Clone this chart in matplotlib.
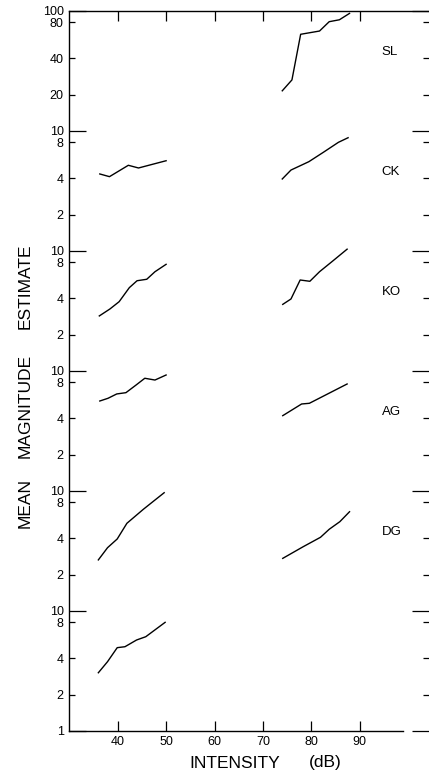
import numpy as np
import matplotlib
matplotlib.use('Agg')
from matplotlib import pyplot as plt
from matplotlib.ticker import FixedLocator, FixedFormatter, NullFormatter

plt.rcParams['font.family'] = ['Liberation Sans', 'DejaVu Sans']

# Subjects, each drawn one decade lower than the one above (SL and CK share a decade)
subjects = ['SL', 'CK', 'KO', 'AG', 'DG']
decade_shift = [4, 4, 3, 2, 1]

# Low intensity part (dB, magnitude estimate in subject units)
left_db = [
    [36.3, 38.3, 42.2, 44.3, 50.0],
    [36.2, 38.4, 40.3, 42.4, 44.0, 46.0, 47.7, 50.0],
    [36.3, 38.0, 39.8, 41.7, 43.8, 45.6, 47.7, 50.0],
    [36.0, 37.9, 39.9, 41.9, 45.3, 47.0, 49.6],
    [36.0, 37.9, 39.9, 41.5, 43.9, 45.8, 49.8],
]
left_est = [
    [4.36, 4.14, 5.15, 4.89, 5.62],
    [0.286, 0.327, 0.376, 0.492, 0.562, 0.578, 0.668, 0.77],
    [0.559, 0.589, 0.640, 0.656, 0.760, 0.865, 0.836, 0.921],
    [0.265, 0.335, 0.396, 0.535, 0.70, 0.794, 0.962],
    [0.304, 0.376, 0.492, 0.501, 0.570, 0.607, 0.80],
]

# High intensity part
right_db = [
    [74.0, 76.0, 77.8, 81.7, 83.7, 85.8, 87.9],
    [74.0, 75.8, 79.5, 82.5, 85.6, 87.6],
    [74.1, 75.8, 77.7, 79.7, 81.7, 84.5, 87.4],
    [74.1, 78.0, 79.6, 87.4],
    [74.1, 78.3, 81.9, 83.7, 85.9, 87.9],
]
right_est = [
    [21.5, 26.5, 63.6, 67.7, 81.0, 84.0, 95.0],
    [3.96, 4.70, 5.52, 6.61, 8.0, 8.74],
    [3.57, 3.96, 5.70, 5.56, 6.68, 8.25, 10.3],
    [4.22, 5.28, 5.35, 7.75],
    [2.73, 3.41, 4.09, 4.77, 5.52, 6.68],
]

# where the subject name sits (subject units)
name_est = [45, 4.5, 4.5, 4.5, 4.5]

x_ticks = [40, 50, 60, 70, 80, 90]

# y ticks on the stacked log scale
major_y = [1, 1e1, 1e2, 1e3, 1e4, 1e5, 1e6]
major_lbl = ['1', '10', '10', '10', '10', '10', '100']
minor_y = []
minor_lbl = []
for k in range(6):
    for m in [2, 4, 8]:
        minor_y.append(m * 10 ** k)
        minor_lbl.append(str(m * 10) if k == 5 else str(m))

fig = plt.figure(figsize=(4.29, 7.74), dpi=100)
ax = fig.add_axes([69.3 / 429, 43.3 / 774, (429 - 69.3) / 429, 720 / 774])

for i, s in enumerate(subjects):
    f = 10 ** decade_shift[i]
    ax.plot(left_db[i], np.array(left_est[i]) * f, color='black', lw=1.0)
    ax.plot(right_db[i], np.array(right_est[i]) * f, color='black', lw=1.0)
    ax.text(94.5, name_est[i] * f, s, fontsize=9.5, ha='left', va='center')

ax.set_yscale('log')
ax.set_ylim(1, 1e6)
ax.set_xlim(30, 30 + (429 - 69.3) / 4.84)

ax.xaxis.set_major_locator(FixedLocator(x_ticks))
ax.set_xticklabels([str(t) for t in x_ticks])
ax.yaxis.set_major_locator(FixedLocator(major_y))
ax.yaxis.set_major_formatter(FixedFormatter(major_lbl))
ax.yaxis.set_minor_locator(FixedLocator(minor_y))
ax.yaxis.set_minor_formatter(FixedFormatter(minor_lbl))

ax.tick_params(axis='x', which='both', direction='in', top=True, length=7.5,
               width=0.9, labelsize=9, pad=4)
ax.tick_params(axis='y', which='major', direction='in', right=True, length=12.5,
               width=0.9, labelsize=9, pad=4)
ax.tick_params(axis='y', which='minor', direction='in', right=True, length=4.5,
               width=0.9, labelsize=9, pad=4)

ax.spines['right'].set_visible(False)
ax.spines['bottom'].set_bounds(30, 99)
for sp in ['left', 'top', 'bottom']:
    ax.spines[sp].set_linewidth(1.0)

# axis titles
fig.text(25 / 429, 1 - 285.8 / 774, 'ESTIMATE', rotation=90, fontsize=12.5,
         ha='center', va='center')
fig.text(25 / 429, 1 - 406 / 774, 'MAGNITUDE', rotation=90, fontsize=12.5,
         ha='center', va='center')
fig.text(25 / 429, 1 - 502.5 / 774, 'MEAN', rotation=90, fontsize=12.5,
         ha='center', va='center')
fig.text(235 / 429, 1 - 763 / 774, 'INTENSITY', fontsize=12.5, ha='center', va='center')
fig.text(325 / 429, 1 - 763 / 774, '(dB)', fontsize=12.5, ha='center', va='center')

fig.savefig('out.png', dpi=100)
